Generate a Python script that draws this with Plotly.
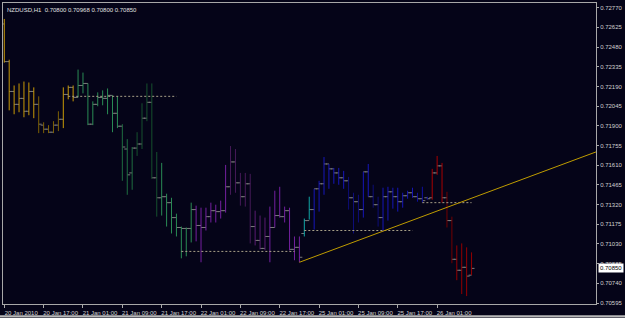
import plotly.graph_objects as go

# ---------------- data ----------------
chart_title = "NZDUSD,H1  0.70800 0.70968 0.70800 0.70850"
last_price = 0.70850

opens = [0.72650, 0.72373, 0.72153, 0.72058, 0.72102, 0.72007, 0.72153, 0.72058, 0.71905, 0.71875,
         0.71853, 0.71905, 0.71948, 0.72131, 0.72183, 0.72109, 0.72197, 0.72212, 0.71912, 0.72058,
         0.72109, 0.72102, 0.72124, 0.71992, 0.71897, 0.71729, 0.71553, 0.71736, 0.71766, 0.71956,
         0.72073, 0.71517, 0.71370, 0.71378, 0.71334, 0.71224, 0.71151, 0.71144, 0.71144, 0.71283,
         0.71166, 0.71151, 0.71231, 0.71275, 0.71268, 0.71275, 0.71451, 0.71634, 0.71480, 0.71378,
         0.71473, 0.71158, 0.71056, 0.70997, 0.71085, 0.71151, 0.71239, 0.71231, 0.71275, 0.70990,
         0.71005, 0.71107, 0.71202, 0.71283, 0.71436, 0.71473, 0.71619, 0.71583, 0.71553, 0.71517,
         0.71495, 0.71370, 0.71341, 0.71283, 0.71561, 0.71378, 0.71319, 0.71224, 0.71378, 0.71414,
         0.71378, 0.71341, 0.71385, 0.71407, 0.71378, 0.71363, 0.71370, 0.71370, 0.71553, 0.71605,
         0.71370, 0.71202, 0.70917, 0.70836, 0.70858, 0.70800]
highs = [0.72687, 0.72387, 0.72197, 0.72212, 0.72226, 0.72219, 0.72183, 0.72117, 0.71926, 0.71905,
         0.71934, 0.72007, 0.72183, 0.72197, 0.72197, 0.72314, 0.72292, 0.72212, 0.72080, 0.72146,
         0.72161, 0.72175, 0.72124, 0.72117, 0.71912, 0.71802, 0.71744, 0.71853, 0.72066, 0.72212,
         0.72212, 0.71707, 0.71627, 0.71400, 0.71370, 0.71253, 0.71158, 0.71151, 0.71334, 0.71312,
         0.71297, 0.71297, 0.71334, 0.71319, 0.71349, 0.71612, 0.71751, 0.71729, 0.71553, 0.71553,
         0.71546, 0.71275, 0.71239, 0.71224, 0.71305, 0.71422, 0.71451, 0.71305, 0.71297, 0.71085,
         0.71085, 0.71217, 0.71378, 0.71436, 0.71495, 0.71670, 0.71619, 0.71590, 0.71590, 0.71568,
         0.71524, 0.71407, 0.71392, 0.71561, 0.71619, 0.71466, 0.71378, 0.71444, 0.71451, 0.71444,
         0.71444, 0.71407, 0.71422, 0.71444, 0.71407, 0.71451, 0.71378, 0.71583, 0.71678, 0.71627,
         0.71414, 0.71231, 0.71019, 0.71034, 0.71005, 0.70968]
lows = [0.72365, 0.72014, 0.71985, 0.72000, 0.71963, 0.71978, 0.71956, 0.71846, 0.71846, 0.71846,
        0.71846, 0.71861, 0.71883, 0.72095, 0.72080, 0.72109, 0.72139, 0.71905, 0.71905, 0.72044,
        0.72051, 0.71985, 0.71853, 0.71883, 0.71495, 0.71392, 0.71429, 0.71678, 0.71729, 0.71934,
        0.71509, 0.71231, 0.71239, 0.71158, 0.71107, 0.71085, 0.70924, 0.70939, 0.71041, 0.71049,
        0.70895, 0.71129, 0.71188, 0.71188, 0.71217, 0.71261, 0.71392, 0.71407, 0.71312, 0.71305,
        0.71034, 0.71019, 0.70990, 0.70983, 0.70895, 0.71151, 0.71224, 0.71188, 0.70983, 0.70910,
        0.70895, 0.71085, 0.71209, 0.71136, 0.71268, 0.71392, 0.71436, 0.71473, 0.71466, 0.71436,
        0.71283, 0.71107, 0.71188, 0.71224, 0.71378, 0.71297, 0.71158, 0.71122, 0.71202, 0.71290,
        0.71268, 0.71297, 0.71363, 0.71370, 0.71341, 0.71334, 0.71356, 0.71356, 0.71539, 0.71334,
        0.71151, 0.70888, 0.70763, 0.70661, 0.70646, 0.70800]
closes = [0.72373, 0.72153, 0.72058, 0.72102, 0.72007, 0.72153, 0.72058, 0.71912, 0.71875, 0.71853,
          0.71905, 0.71948, 0.72131, 0.72183, 0.72109, 0.72197, 0.72212, 0.71912, 0.72058, 0.72109,
          0.72102, 0.72124, 0.71992, 0.71897, 0.71744, 0.71539, 0.71736, 0.71766, 0.71956, 0.72073,
          0.71517, 0.71370, 0.71378, 0.71334, 0.71224, 0.71151, 0.71144, 0.71144, 0.71283, 0.71166,
          0.71151, 0.71231, 0.71275, 0.71268, 0.71275, 0.71451, 0.71634, 0.71480, 0.71378, 0.71473,
          0.71158, 0.71056, 0.70997, 0.71085, 0.71151, 0.71239, 0.71231, 0.71275, 0.70990, 0.71005,
          0.70932, 0.71202, 0.71283, 0.71436, 0.71473, 0.71619, 0.71583, 0.71553, 0.71517, 0.71495,
          0.71370, 0.71341, 0.71283, 0.71561, 0.71378, 0.71319, 0.71224, 0.71378, 0.71414, 0.71378,
          0.71341, 0.71385, 0.71407, 0.71378, 0.71363, 0.71349, 0.71363, 0.71553, 0.71605, 0.71370,
          0.71202, 0.70917, 0.70836, 0.70858, 0.70793, 0.70850]

# colour class of each bar (indicator state)
bar_classes = (["G"] * 7 + ["g"] * 5 + ["G"] * 3 +
               ["E"] * 9 + ["M"] * 3 + ["e"] * 5 + ["E"] * 7 +
               ["P"] * 7 + ["p"] * 5 + ["Q"] * 3 + ["P"] * 7 +
               ["C"] * 2 +
               ["B"] * 7 + ["b"] * 3 + ["B"] * 2 + ["b"] * 2 + ["B"] * 7 + ["N"] * 3 +
               ["R"] * 3 + ["r"] * 2 + ["S"] * 4)

time_tick_bars = [0, 8, 16, 24, 32, 40, 48, 56, 64, 72, 80, 88]
time_tick_labels = ["20 Jan 2010", "20 Jan 17:00", "21 Jan 01:00", "21 Jan 09:00",
                    "21 Jan 17:00", "22 Jan 01:00", "22 Jan 09:00", "22 Jan 17:00",
                    "25 Jan 01:00", "25 Jan 09:00", "25 Jan 17:00", "26 Jan 01:00"]
price_ticks = [0.72770, 0.72625, 0.72480, 0.72335, 0.72190, 0.72045, 0.71900, 0.71755,
               0.71610, 0.71465, 0.71320, 0.71175, 0.71030, 0.70885, 0.70740, 0.70595]

level_prices = [0.72117, 0.70975, 0.71129, 0.71334]
level_start_bars = [13, 36, 61, 85]
level_end_bars = [35, 59, 83, 95]

trend_bars = [60, 125]
trend_prices = [0.70895, 0.71771]

# ---------------- styles ----------------
BG = "#050418"
palette = {
    "G": "#c99a06", "g": "#7e6104",
    "E": "#2a8c55", "M": "#1f6e40", "e": "#16512e",
    "P": "#7420a0", "p": "#461a58", "Q": "#5a1c70",
    "C": "#10a6a6",
    "B": "#1616b8", "b": "#0d0d78", "N": "#1010a0",
    "R": "#a80000", "r": "#720000", "S": "#940000",
}
TICK_COLOR = "#7a7a7a"
AXIS_COLOR = "#a8a8a8"
TEXT_COLOR = "#d0d0d0"
FONT = "Liberation Sans, Arial, sans-serif"

fig = go.Figure()

# open / close ticks
tx, ty = [], []
for i, (o, c) in enumerate(zip(opens, closes)):
    tx += [i - 0.6, i, None, i, i + 0.6, None]
    ty += [o, o, None, c, c, None]
fig.add_trace(go.Scatter(x=tx, y=ty, mode="lines", line=dict(color=TICK_COLOR, width=1),
                         hoverinfo="skip", showlegend=False))

# high-low bars, one trace per colour class
for key, col in palette.items():
    bx, by = [], []
    for i, k in enumerate(bar_classes):
        if k == key:
            bx += [i, i, None]
            by += [highs[i], lows[i], None]
    if bx:
        fig.add_trace(go.Scatter(x=bx, y=by, mode="lines", line=dict(color=col, width=1),
                                 hoverinfo="skip", showlegend=False))

# dotted horizontal levels
for p, a, b in zip(level_prices, level_start_bars, level_end_bars):
    fig.add_trace(go.Scatter(x=[a, b], y=[p, p], mode="lines",
                             line=dict(color="#a8a088", width=1, dash="2px,2px"),
                             hoverinfo="skip", showlegend=False))

# trend line
fig.add_trace(go.Scatter(x=trend_bars, y=trend_prices, mode="lines",
                         line=dict(color="#bf9c00", width=1),
                         hoverinfo="skip", showlegend=False))

fig.update_layout(
    width=625, height=318,
    margin=dict(l=2, r=26, t=2, b=13),
    paper_bgcolor=BG, plot_bgcolor=BG,
    showlegend=False,
    font=dict(family=FONT, size=6, color=TEXT_COLOR),
    xaxis=dict(range=[-0.26, 120.3], showgrid=False, zeroline=False,
               tickmode="array", tickvals=time_tick_bars, ticktext=time_tick_labels,
               ticks="outside", ticklen=3, tickcolor=AXIS_COLOR,
               tickfont=dict(size=6, color=TEXT_COLOR, family=FONT),
               ticklabelshift=17,
               showline=True, linecolor=AXIS_COLOR, linewidth=1, mirror=True),
    yaxis=dict(range=[0.705877, 0.728044], side="right", showgrid=False, zeroline=False,
               tickmode="array", tickvals=price_ticks,
               ticktext=[f"{v:.5f}" for v in price_ticks],
               ticks="outside", ticklen=2, tickcolor=AXIS_COLOR,
               tickfont=dict(size=6, color=TEXT_COLOR, family=FONT),
               showline=True, linecolor=AXIS_COLOR, linewidth=1, mirror=True),
)

fig.add_annotation(xref="paper", yref="paper", x=0, y=1, xanchor="left", yanchor="top",
                   xshift=2, yshift=-2, text=chart_title, showarrow=False,
                   font=dict(size=6, color="#e0e0e0", family=FONT))

fig.add_annotation(xref="paper", yref="y", x=1, y=last_price, xanchor="left", yanchor="middle",
                   xshift=2, text=f"{last_price:.5f}", showarrow=False,
                   bgcolor="#ffffff", borderpad=1,
                   font=dict(size=6, color="#000000", family=FONT))

# window frame strips
fig.add_shape(type="rect", xref="paper", yref="paper", x0=-0.01, x1=1.05, y0=-0.045, y1=-0.037,
              fillcolor="#b8b8b8", line=dict(width=0), layer="above")

fig.write_html("out.html")
